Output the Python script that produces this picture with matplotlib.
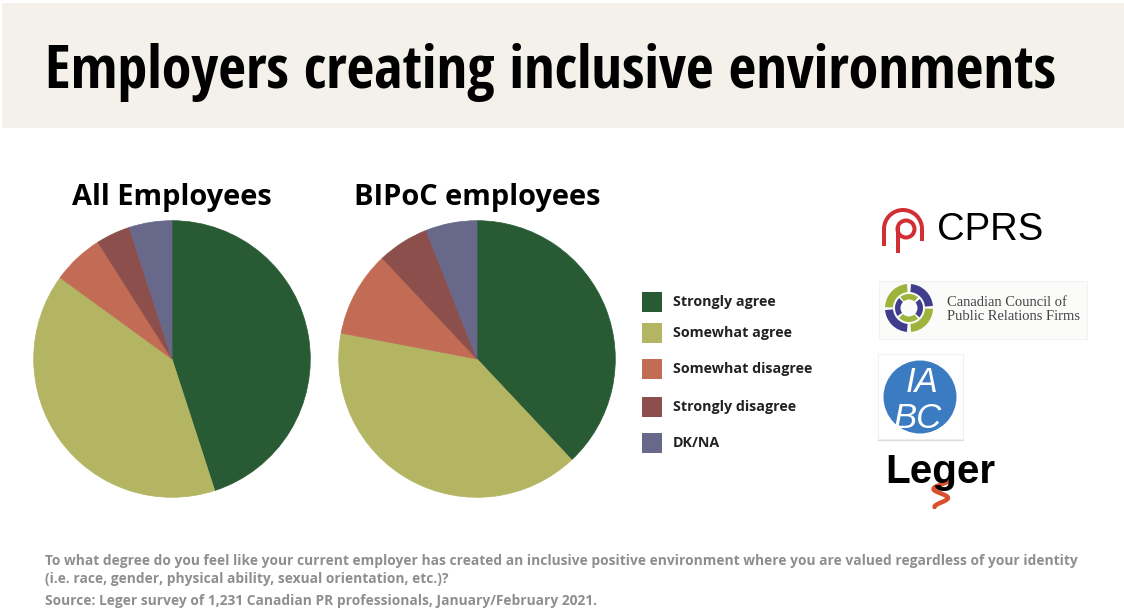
import matplotlib
matplotlib.use("Agg")
import matplotlib.pyplot as plt
import matplotlib.font_manager as fm
from matplotlib.patches import Rectangle, Circle, Wedge, Arc
import numpy as np

W, H, DPI = 1124, 613, 100

# Survey results (percent of respondents)
categories = ["Strongly agree", "Somewhat agree", "Somewhat disagree",
              "Strongly disagree", "DK/NA"]
all_employees = [45, 40, 6, 4, 5]
bipoc_employees = [38, 40, 10, 6, 6]
group_titles = ["All Employees", "BIPoC employees"]
colors = ["#285A34", "#B3B563", "#C26C56", "#8D4F4C", "#67688A"]

title = "Employers creating inclusive environments"
question_lines = [
    "To what degree do you feel like your current employer has created an inclusive "
    "positive environment where you are valued regardless of your identity",
    "(i.e. race, gender, physical ability, sexual orientation, etc.)?",
]
source = "Source: Leger survey of 1,231 Canadian PR professionals, January/February 2021."

installed = {f.name for f in fm.fontManager.ttflist}


def pick(*names):
    for n in names:
        if n in installed:
            return n
    return "DejaVu Sans"


NARROW = pick("Liberation Sans Narrow", "Open Sans Condensed", "Roboto Condensed",
              "Open Sans", "DejaVu Sans")
BODY = pick("Open Sans", "Noto Sans", "DejaVu Sans")
SANS = pick("Liberation Sans", "Arial", "DejaVu Sans")
SERIF = pick("Liberation Serif", "DejaVu Serif")

fig = plt.figure(figsize=(W / DPI, H / DPI), dpi=DPI)
fig.patch.set_facecolor("white")

# full-figure canvas in pixel units (y grows downwards)
canvas = fig.add_axes([0, 0, 1, 1])
canvas.set_xlim(0, W)
canvas.set_ylim(H, 0)
canvas.axis("off")
renderer = fig.canvas.get_renderer()


def fit_width(t, width):
    t.set_fontsize(20)
    w = t.get_window_extent(renderer).width
    t.set_fontsize(20 * width / w)
    return t.get_fontsize()


def px(v):
    """pixels -> points for line widths"""
    return v * 72.0 / DPI


def vwedge(center, r, a1, a2, width, color):
    # angles given counter-clockwise as seen on screen
    return Wedge(center, r, -a2, -a1, width=width, facecolor=color, edgecolor="none")


# ---- header band and title ----
canvas.add_patch(Rectangle((2, 3), W - 2, 125, facecolor="#F3F1EA", edgecolor="none"))
t = canvas.text(45, 88, title, fontfamily=NARROW, fontweight="bold", color="black",
                ha="left", va="baseline")
fit_width(t, 1010)

# ---- pies ----
pie_cx = [172, 477]
pie_cy, pie_r = 359, 139
for values, name, cx in zip([all_employees, bipoc_employees], group_titles, pie_cx):
    ax = fig.add_axes([(cx - pie_r) / W, 1 - (pie_cy + pie_r) / H,
                       2 * pie_r / W, 2 * pie_r / H])
    wedges, _ = ax.pie(values, colors=colors, startangle=90, counterclock=False,
                       radius=1.0)
    for w in wedges:
        w.set_edgecolor(w.get_facecolor())
        w.set_linewidth(0.5)
    ax.set_xlim(-1.005, 1.005)
    ax.set_ylim(-1.005, 1.005)
    ax.set_aspect("equal")
    ax.axis("off")

sub_size = None
for name, cx in zip(group_titles[::-1], pie_cx[::-1]):
    st = canvas.text(cx, 205, name, fontfamily=BODY, fontweight="bold",
                     color="black", ha="center", va="baseline")
    if sub_size is None:
        sub_size = fit_width(st, 247)
    else:
        st.set_fontsize(sub_size)

# ---- legend ----
legend_rows = [302, 333, 369, 407, 443]
probe = canvas.text(0, 0, "Somewhat disagree", fontfamily=BODY, fontweight="bold")
leg_size = fit_width(probe, 139)
probe.remove()
for cat, col, yc in zip(categories, colors, legend_rows):
    canvas.add_patch(Rectangle((642, yc - 10), 20, 20, facecolor=col, edgecolor="none"))
    canvas.text(673, yc, cat, fontfamily=BODY, fontweight="bold", fontsize=leg_size,
                color="#222222", ha="left", va="center")

# ---- partner marks ----
red = "#D22F35"
# CPRS
canvas.add_patch(Arc((903, 229), 38, 38, theta1=180, theta2=360,
                     color=red, lw=px(4)))
canvas.plot([884, 884], [229, 246], color=red, lw=px(4), solid_capstyle="butt")
canvas.plot([922, 922], [229, 241], color=red, lw=px(4), solid_capstyle="butt")
canvas.add_patch(Circle((906, 229), 8.5, fill=False, edgecolor=red, lw=px(4)))
canvas.plot([897.5, 897.5], [226, 253], color=red, lw=px(4), solid_capstyle="butt")
ct = canvas.text(937, 240, "CPRS", fontfamily=SANS, color="black",
                 ha="left", va="baseline")
fit_width(ct, 106)

# Canadian Council of Public Relations Firms
canvas.add_patch(Rectangle((879, 281), 208, 58, facecolor="#FBFBFA",
                           edgecolor="#F2F2F2", lw=0.8))
green, purple = "#9DB33B", "#403D8C"
cc = (909, 308)
for a1, a2, col in [(95, 178, green), (185, 265, purple), (275, 358, green), (5, 85, purple)]:
    canvas.add_patch(vwedge(cc, 24, a1, a2, 8, col))
for a1, a2, col in [(135, 215, purple), (225, 310, green), (318, 400, purple), (50, 128, green)]:
    canvas.add_patch(vwedge(cc, 14, a1, a2, 5.5, col))
c1 = canvas.text(947, 306, "Canadian Council of", fontfamily=SERIF,
                 color="#444444", ha="left", va="baseline")
c2 = canvas.text(947, 320, "Public Relations Firms", fontfamily=SERIF,
                 color="#444444", ha="left", va="baseline")
fs = fit_width(c2, 134)
c1.set_fontsize(fs)

# IABC
canvas.add_patch(Rectangle((878, 354), 85, 85, facecolor="white",
                           edgecolor="#F0F0F0", lw=0.8))
canvas.plot([878, 963], [439.5, 439.5], color="#DDDDDD", lw=px(1.2))
canvas.add_patch(Circle((920, 397), 36.5, facecolor="#3B7BC1", edgecolor="none"))
canvas.text(922, 392, "IA", fontfamily=SANS, fontstyle="italic", color="white",
            fontsize=25, ha="center", va="baseline")
canvas.text(918, 428, "BC", fontfamily=SANS, fontstyle="italic", color="white",
            fontsize=25, ha="center", va="baseline")

# Leger
lg = canvas.text(885, 483, "Leger", fontfamily=SANS, fontweight="bold",
                 color="black", ha="left", va="baseline")
fit_width(lg, 110)
lg.set_clip_path(Rectangle((870, 440), 150, 43.5, transform=canvas.transData))
s = np.linspace(0, 1, 80)
tail_x = 941 + 8 * np.cos(3 * np.pi * s) * (1 - 0.2 * s)
tail_y = 480 + 27 * s
canvas.plot(tail_x, tail_y, color="#D9502F", lw=px(4.5), solid_capstyle="round")

# ---- footer ----
qsize = None
for txt, yb in zip(question_lines, [565, 583]):
    q = canvas.text(45, yb, txt, fontfamily=BODY, fontweight="bold",
                    color="#8E8E8E", ha="left", va="baseline")
    if qsize is None:
        qsize = fit_width(q, 1027)
    else:
        q.set_fontsize(qsize)
canvas.text(45, 605, source, fontfamily=BODY, fontweight="bold",
            color="#8E8E8E", ha="left", va="baseline", fontsize=qsize)

fig.savefig("out.png", dpi=DPI, facecolor="white")
